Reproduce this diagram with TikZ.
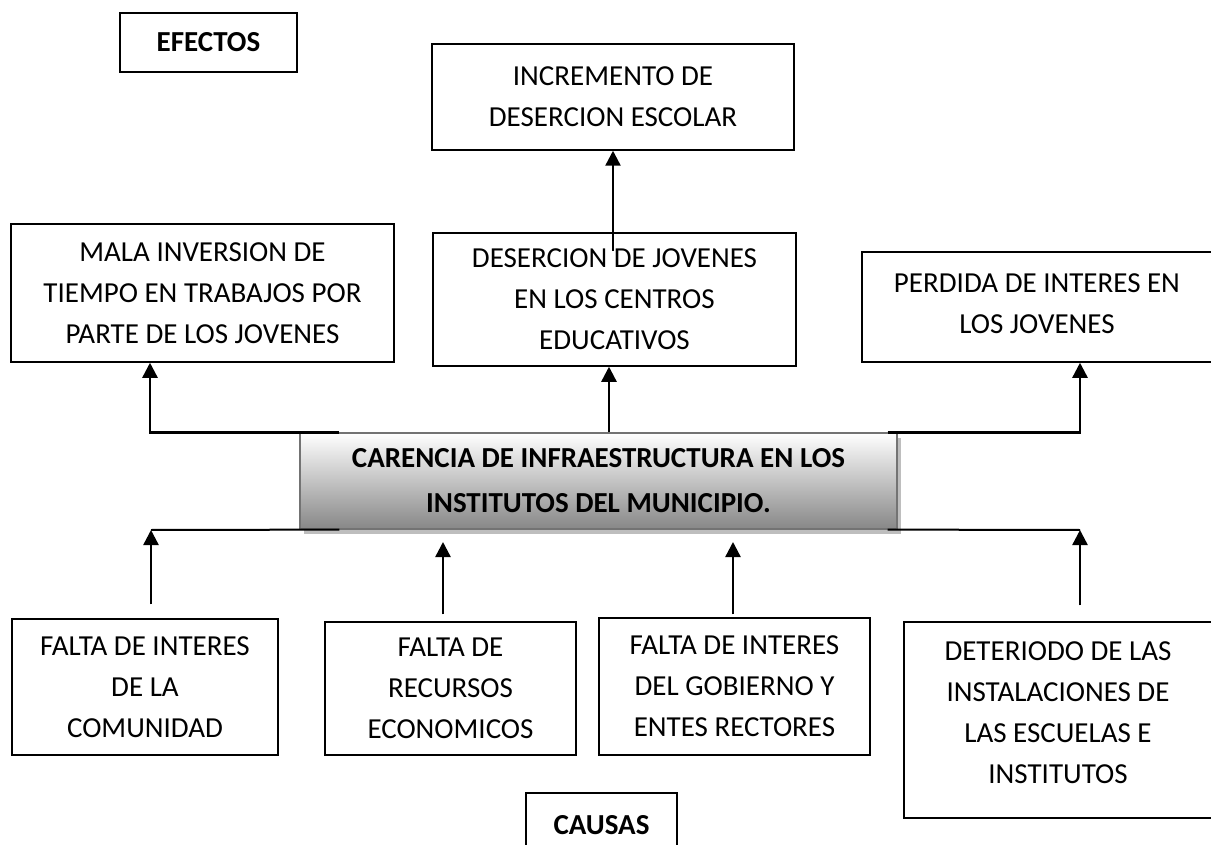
\documentclass[tikz,border=0pt]{standalone}
\usepackage{fontspec}
\setmainfont{Carlito}
\usetikzlibrary{arrows.meta,calc,shadows}
\definecolor{shadowgray}{RGB}{190,190,190}
\definecolor{botgray}{RGB}{135,135,135}
\definecolor{bordergray}{RGB}{115,115,115}
\begin{document}
\begin{tikzpicture}[x=1pt,y=-1pt,
  box/.style={draw=black, line width=1.5pt, inner sep=0pt, align=center,
    font=\fontsize{29}{41}\selectfont},
  boldbox/.style={box, font=\bfseries\fontsize{29}{41}\selectfont},
  txt/.style={inner sep=0pt, align=center, font=\fontsize{29}{41}\selectfont},
  conn/.style={line width=2pt},
  arr/.style={line width=2.4pt, -{Triangle[width=15pt,length=15pt]}},
]
\useasboundingbox (0,0) rectangle (1211,845);
\clip (0,0) rectangle (1211,845);

% effects
\node[boldbox, minimum width=177pt, minimum height=59pt] (efectos) at (208.5,42.5) {EFECTOS};
\node[box, minimum width=362pt, minimum height=106pt] (incremento) at (613,97)
  {INCREMENTO DE\\DESERCION ESCOLAR};
\node[box, minimum width=383pt, minimum height=138pt] (mala) at (202.5,293)
  {MALA INVERSION DE\\TIEMPO EN TRABAJOS POR\\PARTE DE LOS JOVENES};
\node[box, minimum width=363pt, minimum height=133pt] (desercion) at (614.5,299.5)
  {DESERCION DE JOVENES\\EN LOS CENTROS\\EDUCATIVOS};
\node[box, minimum width=380pt, minimum height=110pt, anchor=west] (perdida) at (861,307) {};
\node[txt] (perdidat) at (1037,304) {PERDIDA DE INTERES EN\\LOS JOVENES};

% central problem
\node[box, draw=bordergray, line width=1.2pt, top color=white, bottom color=botgray,
  drop shadow={shadow xshift=4pt, shadow yshift=-5pt, fill=shadowgray, opacity=1},
  minimum width=597pt, minimum height=96pt,
  font=\bfseries\fontsize{29}{45}\selectfont] (central) at (598.5,481)
  {CARENCIA DE INFRAESTRUCTURA EN LOS\\INSTITUTOS DEL MUNICIPIO.};

% causes
\node[box, minimum width=266pt, minimum height=136pt] (c1) at (145,687)
  {FALTA DE INTERES\\DE LA\\COMUNIDAD};
\node[box, minimum width=251pt, minimum height=133pt] (c2) at (450.5,688.5)
  {FALTA DE\\RECURSOS\\ECONOMICOS};
\node[box, minimum width=271pt, minimum height=137pt] (c3) at (734.5,686.5)
  {FALTA DE INTERES\\DEL GOBIERNO Y\\ENTES RECTORES};
\node[box, minimum width=340pt, minimum height=196pt, anchor=west] (c4) at (903,720) {};
\node[txt] (c4t) at (1058,713)
  {DETERIODO DE LAS\\INSTALACIONES DE\\LAS ESCUELAS E\\INSTITUTOS};
\node[boldbox, minimum width=151pt, minimum height=64pt] (causas) at (601.5,825) {CAUSAS};

% helper coordinates
\coordinate (xl) at (150,0);
\coordinate (xr) at (1080,0);
\coordinate (bl) at (151,530);
\coordinate (br) at (1080,530);
\coordinate (a2) at (443,542);
\coordinate (a3) at (733,542);

% effect connectors
\draw[arr] ($(desercion.north -| incremento.south)+(0,19)$) -- (incremento.south);
\draw[arr] ([xshift=10.5pt]central.north) -- ([xshift=10.5pt]central.north |- desercion.south);
\draw[arr] ([xshift=40pt]central.north west) -| (xl |- mala.south);
\draw[arr] ([xshift=-10pt]central.north east) -| (xr |- perdida.south);

% cause connectors
\draw[conn] ([xshift=40pt]central.south west) -- (bl);
\draw[conn] ([xshift=-10pt]central.south east) -- (br);
\draw[arr] ($(bl |- c1.north)+(0,-14)$) -- (bl);
\draw[arr] ($(a2 |- c2.north)+(0,-7)$) -- (a2);
\draw[arr] ($(a3 |- c3.north)+(0,-3)$) -- (a3);
\draw[arr] ($(br |- c4.north)+(0,-16)$) -- (br);
\end{tikzpicture}
\end{document}
